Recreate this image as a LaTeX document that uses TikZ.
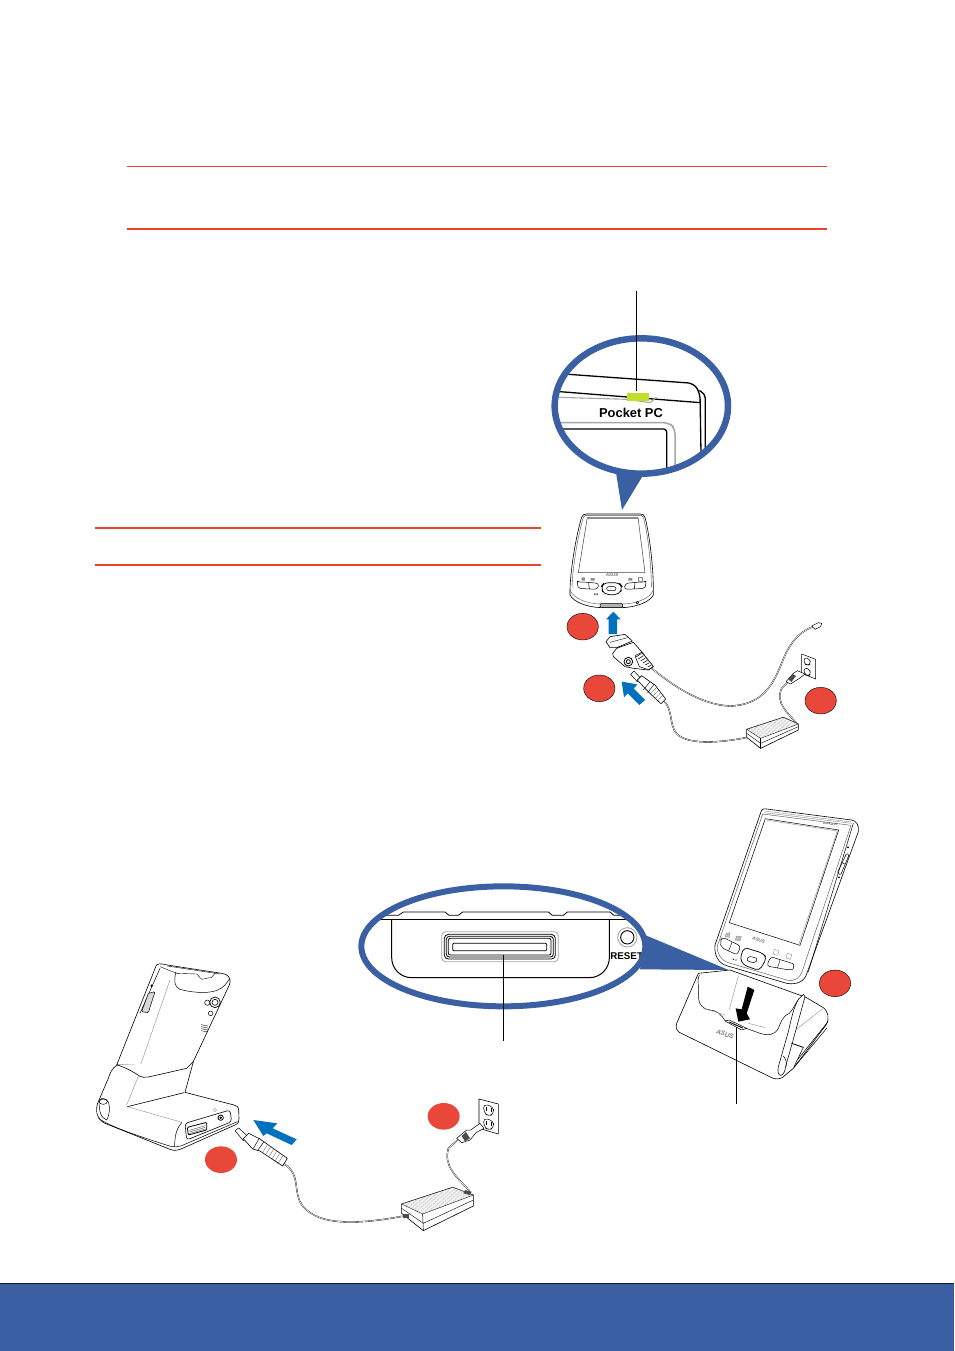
\documentclass[tikz,border=0pt]{standalone}
\usepackage{fontspec}
\usetikzlibrary{patterns.meta}
\setmainfont{Liberation Sans}
\definecolor{rulered}{HTML}{E8432F}
\definecolor{dotred}{HTML}{E8473A}
\definecolor{ringblue}{HTML}{3A5FA3}
\definecolor{arrowblue}{HTML}{0071BC}
\definecolor{ledgreen}{HTML}{C4DC2B}
\tikzset{
  zz/.style args={#1,#2}{shift={(#1,#2)},x=0.33333pt,y=-0.33333pt},
  ln/.style={draw=black,line width=0.6pt,line join=round,line cap=round},
  lnw/.style={ln,fill=white},
  thin gray/.style={draw=black!45,line width=0.4pt},
  cablew/.style={draw=black,line width=0.35pt,double=white,double distance=0.6pt,line cap=round},
  badge/.style={fill=dotred,draw=black,line width=0.4pt},
  badgep/.style={fill=dotred},
  blueArrow/.style={fill=arrowblue},
  ring/.style={draw=ringblue,line width=6.5pt},
  rulethin/.style={draw=rulered,line width=0.7pt},
  rulethick/.style={draw=rulered,line width=1.2pt},
  leader/.style={draw=black,line width=0.7pt},
  brickTop/.style={ln,line width=0.4pt,fill=white,postaction={pattern={Lines[angle=-18,distance=1.3pt,line width=0.2pt]},pattern color=black!35}},
  microlabel/.style={text=black!55,inner sep=0pt,font=\fontsize{4.5}{5}\selectfont\itshape\bfseries},
}
\begin{document}
\begin{tikzpicture}[x=1pt,y=-1pt]
\useasboundingbox (0,0) rectangle (954,1351);
% rules
\draw[rulethin] (127,166) -- (827,166);
\draw[rulethick] (127,229) -- (827,229);
\draw[rulethick] (95,528) -- (541,528);
\draw[rulethick] (95,565) -- (541,565);
% bottom band
\fill[ringblue] (0,1283) rectangle (954,1351);
\draw[draw=black!70!ringblue,line width=0.7pt] (0,1283.3) -- (954,1283.3);

% ---------- magnifier 1
\begin{scope}[zz={540,280}]
\fill[ringblue] (228,578) -- (246,690) -- (308,588) -- cycle;
\begin{scope}
\clip (304,378) ellipse [x radius=260,y radius=203];
\draw[draw=black,line width=1.3pt,rounded corners=6pt] (85,283) -- (462,310) -- (480,340) -- (483,520);
\draw[draw=black,line width=1.3pt,rounded corners=5pt] (478,332) -- (496,340) -- (496,520);
\draw[draw=black,line width=1.3pt] (60,335) -- (262,351);
\draw[draw=black,line width=1.3pt] (327,356) -- (482,368);
\draw[draw=black!35,line width=1.1pt] (57,352) -- (262,358) -- (330,368) -- (350,352);
\draw[draw=black!35,line width=1.5pt,rounded corners=6pt] (55,428) -- (388,428) -- (405,445) -- (405,570);
\draw[draw=black,line width=1.3pt,rounded corners=3pt] (60,447) -- (380,447) -- (380,570);
\end{scope}
\fill[ledgreen] (261,339) rectangle (327,363);
\node[inner sep=0pt,font=\bfseries\fontsize{12.9}{14}\selectfont] (pocketpc) at (273,398) {Pocket PC};
\draw[ring] (304,378) ellipse [x radius=260,y radius=203];
\draw[leader] (290,33) -- (290,332);
\end{scope}

% ---------- device with travel charger
\begin{scope}[zz={550,500}]
% device
\draw[lnw] (60,268) .. controls (62,200) and (80,100) .. (95,52) .. controls (98,44) and (102,42) .. (110,42)
 -- (270,42) .. controls (278,42) and (282,44) .. (285,52) .. controls (298,100) and (310,200) .. (310,268)
 -- (310,285) .. controls (300,305) and (260,322) .. (215,323) -- (155,323) .. controls (110,322) and (70,305) .. (60,285) -- cycle;
\draw[thin gray,black!70] (66,262) .. controls (68,200) and (84,105) .. (100,52) -- (106,46) -- (274,46) -- (280,52) .. controls (295,105) and (304,200) .. (304,262);
\draw[thin gray,black!70] (60,270) .. controls (70,295) and (110,312) .. (155,312) -- (215,312) .. controls (260,312) and (300,295) .. (310,270);
\draw[draw=black!75,line width=0.5pt,fill=white] (85,218) -- (112,52) -- (264,52) -- (285,218) -- cycle;
\draw[draw=black!45,line width=1.5pt] (112,54) -- (264,54);
\node[microlabel] (asusA) at (186,226) {ASUS};
\draw[ln,line width=0.5pt,rounded corners=3pt] (82,252) .. controls (84,246) and (90,246) .. (100,246) -- (147,250) -- (143,268) -- (100,266) .. controls (90,265) and (84,260) .. (82,252) -- cycle;
\draw[ln,line width=0.5pt] (116,248) -- (118,267);
\draw[ln,line width=0.5pt,rounded corners=3pt] (288,252) .. controls (286,246) and (280,246) .. (270,246) -- (226,250) -- (222,268) -- (270,266) .. controls (280,265) and (286,260) .. (288,252) -- cycle;
\draw[ln,line width=0.5pt] (255,248) -- (253,267);
\draw[ln,rounded corners=5pt,line width=0.7pt] (162,248) -- (208,248) -- (218,262) -- (208,284) -- (162,284) -- (152,262) -- cycle;
\draw[ln,line width=0.5pt,rounded corners=2pt] (170,260) rectangle (198,272);
\fill[black!45] (95,232) rectangle (105,242) (122,234) rectangle (134,242) (235,234) rectangle (247,242);
\draw[thin gray] (266,232) rectangle (276,243);
\fill[black] (133,280) rectangle (136,285) (140,280) rectangle (143,285);
\draw[ln,fill=black!30,line width=0.5pt,rounded corners=1pt] (150,311) rectangle (218,322);
\draw[ln,line width=0.5pt] (262,308) circle [radius=4];
% up arrow
\fill[blueArrow] (168,358) -- (190,335) -- (212,358) -- (201,358) -- (201,402) -- (176,402) -- (176,358) -- cycle;
% adapter cable
\draw[cablew] (305,505) .. controls (360,550) and (450,615) .. (540,618) .. controls (640,615) and (670,550) .. (695,490) .. controls (715,435) and (745,395) .. (790,380);
\draw[lnw,line width=0.5pt] (785,378) -- (805,368) -- (815,370) -- (812,380) -- (795,388) -- cycle;
% charger cable
\draw[cablew] (340,602) .. controls (375,630) and (350,690) .. (395,712) .. controls (440,735) and (530,725) .. (592,712);
% brick
\draw[cablew] (738,668) .. controls (715,640) and (675,610) .. (695,565) -- (720,540);
\draw[lnw] (590,688) -- (700,652) -- (745,672) -- (745,690) -- (632,745) -- (590,712) -- cycle;
\draw[brickTop] (590,688) -- (700,652) -- (745,672) -- (632,715) -- cycle;
\draw[ln,line width=0.5pt] (632,715) -- (632,745);
\draw[ln,line width=0.4pt] (590,700) -- (632,730) -- (745,680);
% wall
\draw[lnw,line width=0.5pt] (755,462) -- (797,478) -- (797,537) -- (755,520) -- cycle;
\draw[ln,line width=0.5pt,rounded corners=3pt] (762,472) -- (780,477) -- (782,492) -- (772,497) -- (762,490) -- cycle;
\draw[ln,line width=0.5pt,rounded corners=3pt] (762,503) -- (780,508) -- (782,524) -- (772,528) -- (762,520) -- cycle;
\draw[lnw,line width=0.5pt] (708,545) -- (730,520) -- (742,512) -- (765,522) -- (748,535) -- (722,552) -- cycle;
\fill[black!70] (714,537) -- (728,522) -- (738,528) -- (724,546) -- cycle;
% blue arrow
\fill[blueArrow] (215,545) -- (262,553) -- (251,566) -- (285,600) -- (268,615) -- (233,580) -- (222,592) -- cycle;
% badges
\draw[badge] (98,380) ellipse [x radius=47,y radius=40];
\draw[badge] (148,565) ellipse [x radius=47,y radius=40];
\draw[badge] (812,602) ellipse [x radius=47,y radius=40];
\end{scope}

% adapter and plug (finer crop)
\begin{scope}[zz={600,625}]
\draw[lnw] (38,85) -- (50,70) -- (100,52) -- (125,80) -- (160,125) -- (145,135) -- (100,130) -- (75,125) -- (40,95) -- cycle;
\draw[lnw] (18,50) -- (30,35) -- (75,28) -- (97,48) -- (50,68) -- (30,68) -- cycle;
\draw[ln,line width=0.4pt] (30,52) -- (82,38);
\draw[ln,line width=0.8pt] (85,110) circle [radius=13];
\draw[ln,line width=0.8pt] (85,110) circle [radius=6];
\draw[lnw,line width=0.5pt] (105,92) -- (125,82) -- (160,124) -- (145,134) -- (118,125) -- cycle;
\foreach \i in {0,...,5}{\draw[black,line width=0.55pt] (108+\i*7,96+\i*6) -- (124+\i*6,85+\i*7);}
\draw[lnw,line width=0.5pt] (92,148) -- (102,138) -- (122,160) -- (112,170) -- cycle;
\draw[lnw] (112,165) -- (125,152) -- (150,170) -- (165,180) -- (197,222) -- (183,236) -- (155,210) -- (135,190) -- cycle;
\draw[ln,line width=0.45pt] (150,170) -- (130,195);
\draw[ln,line width=0.45pt] (162,178) -- (143,203);
\foreach \i in {0,...,3}{\draw[black!70,line width=0.25pt] (170+\i*6,187+\i*8) -- (152+\i*6,206+\i*8);}
\end{scope}

% ---------- dock (drawn under the device)
\begin{scope}[zz={670,960}]
\draw[lnw] (85,40) -- (20,190) .. controls (17,200) and (18,210) .. (28,217) -- (305,353) .. controls (315,358) and (328,358) .. (338,352) -- (370,325) -- (468,195) .. controls (480,175) and (475,150) .. (455,140) -- (408,112) -- (180,30) -- cycle;
\draw[ln,line width=0.5pt] (88,45) .. controls (78,70) and (90,75) .. (85,105) .. controls (85,135) and (100,148) .. (120,150) .. controls (140,150) and (155,165) .. (165,182) -- (270,220) .. controls (295,228) and (315,225) .. (325,205) .. controls (332,190) and (335,170) .. (358,160) .. controls (372,145) and (378,125) .. (388,115);
\draw[thin gray] (205,48) -- (178,148);
\draw[thin gray] (100,145) -- (165,165);
\draw[thin gray] (235,190) -- (285,203);
\draw[thin gray] (370,215) -- (458,146);
\draw[lnw,line width=0.55pt] (386,117) .. controls (372,140) and (365,170) .. (355,215) -- (325,320) .. controls (322,335) and (325,345) .. (332,346) .. controls (340,345) and (345,335) .. (348,315) -- (368,245) -- (405,110) -- (400,103) -- cycle;
\draw[ln,line width=0.5pt] (340,288) .. controls (346,295) and (352,308) .. (348,320);
\draw[ln,line width=0.8pt] (365,250) -- (400,262);
\draw[ln,line width=0.5pt] (400,262) -- (372,320);
\draw[ln,line width=0.5pt] (372,322) -- (470,205);
\draw[ln,line width=0.5pt] (385,296) -- (474,185);
\draw[lnw,line width=0.5pt] (165,183) -- (178,180) -- (230,205) -- (215,210) -- cycle;
\draw[ln,line width=0.9pt] (178,186) -- (218,204);
\node[inner sep=0pt,rotate=-20,text=black!50,font=\fontsize{6.5}{7}\selectfont\itshape\bfseries] (asusC) at (165,222) {ASUS};
\fill[black] (233,80) -- (253,90) -- (230,160) -- (240,178) -- (205,185) -- (197,145) -- (215,148) -- cycle;
\draw[leader] (200,200) -- (200,433);
\end{scope}

% ---------- magnifier and tilted device
\begin{scope}[zz={350,800}]
% tilted device
\draw[lnw] (1095,435) -- (1232,38) .. controls (1235,28) and (1240,25) .. (1250,27) -- (1505,60) .. controls (1518,62) and (1528,75) .. (1525,95)
  -- (1370,522) .. controls (1362,545) and (1340,555) .. (1310,550) -- (1130,497) .. controls (1105,490) and (1092,465) .. (1095,435) -- cycle;
\draw[thin gray,black!70] (1102,438) -- (1238,42) -- (1503,76) -- (1358,510) .. controls (1350,535) and (1335,545) .. (1310,540) -- (1135,488) .. controls (1112,480) and (1100,460) .. (1102,438);
\draw[ln,line width=0.5pt] (1510,70) -- (1375,515);
\draw[thin gray] (1245,33) -- (1505,66);
\draw[thin gray] (1243,38) -- (1505,70);
\draw[ln,line width=0.5pt,fill=white] (1246,56) -- (1466,90) -- (1350,436) -- (1138,368) -- cycle;
\draw[thin gray] (1248,60) -- (1462,93) -- (1347,432);
\node[microlabel,rotate=-17] (asusB) at (1226,420) {ASUS};
\node[inner sep=0pt,rotate=-8,font=\fontsize{3}{3}\selectfont\bfseries,text=black!70] (ppcB) at (1442,72) {Pocket PC};
\draw[ln,line width=0.5pt,rounded corners=3pt] (1113,425) .. controls (1116,416) and (1124,414) .. (1135,420) -- (1172,438) -- (1162,465) -- (1130,450) .. controls (1118,445) and (1112,435) .. (1113,425) -- cycle;
\draw[ln,line width=0.4pt] (1146,427) -- (1136,452);
\draw[ln,line width=0.7pt,rounded corners=4pt] (1182,442) -- (1240,460) -- (1250,475) -- (1228,512) -- (1180,495) -- (1170,475) -- cycle;
\draw[ln,line width=0.5pt,rounded corners=2pt] (1195,468) -- (1222,475) -- (1216,490) -- (1190,482) -- cycle;
\draw[ln,line width=0.5pt,rounded corners=3pt] (1262,470) -- (1320,488) .. controls (1332,492) and (1332,508) .. (1318,510) -- (1250,498) -- cycle;
\draw[ln,line width=0.4pt] (1290,480) -- (1282,505);
\draw[thin gray,fill=black!25] (1128,400) -- (1140,398) -- (1138,412) -- (1126,410) -- cycle;
\draw[thin gray,fill=black!25] (1160,408) -- (1174,410) -- (1170,422) -- (1156,420) -- cycle;
\draw[thin gray] (1273,448) -- (1287,452) -- (1283,466) -- (1270,462) -- cycle;
\draw[thin gray] (1312,460) -- (1325,464) -- (1321,478) -- (1308,474) -- cycle;
\fill[black] (1150,478) circle [radius=2] (1158,480) circle [radius=2];
% side buttons
\draw[ln,line width=0.5pt,rounded corners=1pt] (1462,218) -- (1490,160) -- (1497,165) -- (1472,225) -- cycle;
\draw[ln,line width=0.4pt] (1476,188) -- (1484,192);
\fill[black] (1494,142) circle [radius=3] (1467,232) circle [radius=3];
% tail
\fill[ringblue] (885,405) -- (1136,510) -- (870,508) -- cycle;
% magnifier contents
\begin{scope}
\clip (460,439) ellipse [x radius=426,y radius=180];
\draw[draw=black,line width=1.3pt] (60,358) -- (860,358);
\draw[draw=black,line width=0.8pt] (60,346) -- (145,346) -- (160,336) -- (285,336) -- (297,346) -- (325,346) -- (338,336) -- (595,336) -- (607,346) -- (640,346) -- (652,336) -- (780,336) -- (792,346) -- (860,346);
\draw[draw=black,line width=1pt,rounded corners=20pt] (125,358) -- (125,533) -- (778,533) -- (778,358);
\end{scope}
\draw[black!35,line width=0.8pt,rounded corners=4pt] (275,395) rectangle (625,485);
\draw[black,line width=0.8pt,rounded corners=4pt] (283,403) rectangle (616,477);
\draw[black,line width=0.8pt,rounded corners=3pt] (289,409) rectangle (610,471);
\draw[black,line width=0.8pt,rounded corners=2pt] (295,415) rectangle (603,465);
\draw[black,line width=0.8pt,rounded corners=1pt] (308,430) rectangle (590,452);
\draw[black!35,line width=0.9pt] (832,412) circle [radius=29];
\draw[black,line width=0.9pt] (832,412) circle [radius=20];
\node[inner sep=0pt,font=\bfseries\fontsize{9.8}{11}\selectfont] (resetlab) at (830,467) {RESET};
\draw[ring,line width=6pt] (460,439) ellipse [x radius=426,y radius=180];
\draw[leader] (460,465) -- (460,722);
% badge
\draw[badge] (1455,550) ellipse [x radius=47,y radius=40];
\end{scope}

% ---------- rear view
\begin{scope}[zz={80,950}]
% body
\draw[lnw] (110,345) -- (228,48) .. controls (232,40) and (240,40) .. (262,45) -- (425,70) .. controls (445,72) and (455,85) .. (448,105) -- (335,345) -- cycle;
\draw[ln,line width=0.5pt] (288,65) .. controls (280,95) and (285,112) .. (300,118) .. controls (345,130) and (410,135) .. (435,105) -- (450,85);
\draw[ln,line width=0.4pt] (240,50) -- (290,70) -- (350,72) -- (365,88) -- (395,82) -- (405,70);
\draw[ln,line width=0.4pt] (262,48) -- (420,72);
\draw[ln,line width=0.5pt] (240,55) -- (180,190);
\draw[ln,line width=0.5pt,fill=black!15,rounded corners=1pt] (185,185) -- (205,130) -- (225,125) -- (205,188) -- cycle;
\fill[black] (215,107) circle [radius=4];
\draw[thin gray] (270,90) -- (140,465);
\draw[ln,line width=0.7pt] (405,157) circle [radius=16];
\draw[ln,line width=0.6pt] (405,157) circle [radius=9];
\draw[ln,line width=0.5pt] (382,158) circle [radius=8];
\draw[ln,line width=0.5pt] (392,190) circle [radius=7];
\foreach \i in {0,...,3}{\draw[ln,line width=0.4pt] (364,224+\i*6) -- (384,228+\i*6);}
% dock
\draw[lnw] (112,345) .. controls (95,355) and (90,370) .. (85,385) -- (52,462) .. controls (45,490) and (55,510) .. (75,520) -- (270,598) .. controls (285,604) and (295,600) .. (310,594) -- (465,525) .. controls (475,520) and (478,515) .. (477,505) -- (476,480) .. controls (475,470) and (470,467) .. (462,465) -- (315,427) -- (340,335);
\fill[white] (135,365) -- (318,358) -- (312,425) -- (142,470) -- cycle;
\draw[ln] (112,345) .. controls (135,352) and (160,365) .. (178,378) .. controls (185,382) and (195,383) .. (205,381) -- (320,355) -- (340,335);
\draw[thin gray] (176,376) -- (140,465);
\draw[ln,line width=0.6pt] (142,470) -- (312,428);
\draw[thin gray] (142,470) -- (306,517);
\draw[ln,line width=0.5pt] (56,505) .. controls (90,530) and (180,560) .. (275,590) .. controls (285,592) and (295,590) .. (305,587) -- (472,515);
\draw[ln,line width=0.5pt] (306,517) .. controls (290,535) and (284,555) .. (284,590);
% hinge
\draw[lnw,line width=0.5pt] (58,450) .. controls (65,442) and (80,445) .. (86,458) .. controls (90,475) and (90,490) .. (80,510) .. controls (65,505) and (55,485) .. (58,450) -- cycle;
\draw[ln,line width=0.5pt] (70,455) ellipse [x radius=12,y radius=8];
% port panel
\draw[lnw,rounded corners=3pt] (315,520) -- (450,480) -- (455,515) -- (320,570) -- cycle;
\draw[ln,line width=0.8pt,rounded corners=1pt] (322,532) -- (380,517) -- (380,540) -- (325,555) -- cycle;
\foreach \i in {0,1,2}{\draw[black!70,line width=0.4pt] (328,541+\i*5) -- (376,527+\i*5);}
\draw[ln,line width=0.8pt] (422,503) circle [radius=8];
\fill[black] (422,503) circle [radius=4];
\draw[thin gray] (405,480) circle [radius=5];
% plug
\draw[lnw,line width=0.5pt] (465,542) -- (476,534) -- (502,558) -- (490,572) -- cycle;
\draw[lnw] (490,566) -- (506,550) -- (540,567) -- (622,625) -- (608,648) -- (540,603) -- (518,597) -- cycle;
\draw[ln,line width=0.45pt] (538,565) -- (520,595);
\draw[ln,line width=0.45pt] (552,575) -- (533,601);
\foreach \i in {0,...,5}{\draw[black!70,line width=0.25pt] (563+\i*9,583+\i*7) -- (548+\i*9,607+\i*7);}
% cable
\draw[cablew] (612,642) .. controls (670,675) and (630,740) .. (680,780) .. controls (740,835) and (880,815) .. (972,798);
\draw[cablew] (1168,722) .. controls (1130,680) and (1090,650) .. (1105,595) -- (1135,568);
% brick
\draw[lnw] (965,762) -- (1118,712) -- (1180,735) -- (1180,768) -- (1030,842) -- (965,790) -- cycle;
\draw[brickTop] (965,762) -- (1118,712) -- (1180,735) -- (1028,792) -- cycle;
\draw[ln,line width=0.5pt] (1028,792) -- (1030,842);
\draw[ln,line width=0.4pt] (965,775) -- (1030,820) -- (1180,750);
\fill[black!70] (968,792) rectangle (988,804);
\fill[black!70] (1155,720) -- (1175,725) -- (1170,735) -- (1150,730) -- cycle;
% wall
\draw[lnw,line width=0.6pt] (1197,447) -- (1255,462) -- (1255,552) -- (1197,535) -- cycle;
\draw[ln,line width=0.5pt,rounded corners=4pt] (1210,462) -- (1240,470) -- (1242,490) -- (1226,500) -- (1212,488) -- cycle;
\draw[ln,line width=0.5pt,rounded corners=4pt] (1210,504) -- (1240,512) -- (1242,532) -- (1226,542) -- (1212,530) -- cycle;
\draw[black,line width=0.6pt] (1219,470) -- (1219,482) (1233,474) -- (1233,486) (1219,512) -- (1219,524) (1233,516) -- (1233,528);
\draw[lnw,line width=0.5pt] (1130,565) -- (1160,540) -- (1172,540) -- (1200,520) -- (1212,535) -- (1188,548) -- (1170,570) -- (1145,578) -- cycle;
\fill[black!70] (1145,558) -- (1158,546) -- (1170,565) -- (1155,574) -- cycle;
% blue arrow
\fill[blueArrow] (520,510) -- (592,520) -- (578,535) -- (650,568) -- (635,585) -- (560,550) -- (550,558) -- cycle;
% badges
\fill[badgep] (423,629) ellipse [x radius=48,y radius=40];
\fill[badgep] (1091,499) ellipse [x radius=48,y radius=40];
\end{scope}
\end{tikzpicture}
\end{document}
